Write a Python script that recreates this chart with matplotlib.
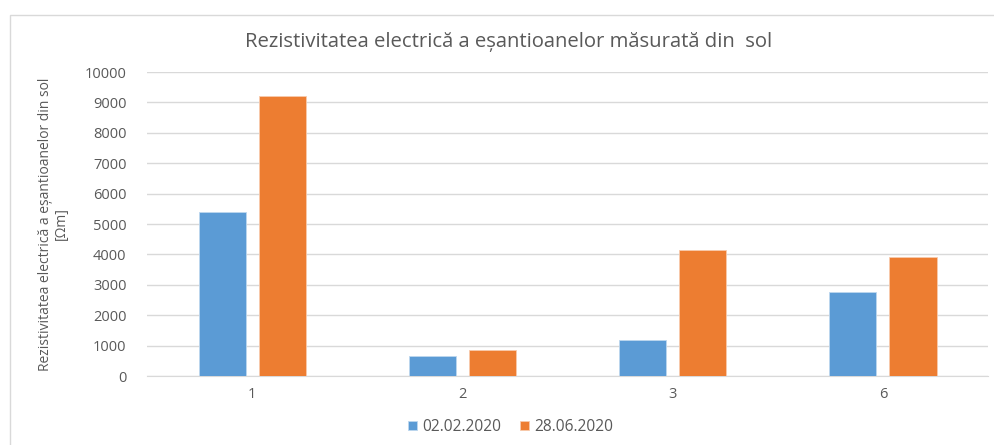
import numpy as np
import matplotlib.pyplot as plt
from matplotlib.patches import Rectangle

plt.rcParams['font.family'] = ['Open Sans', 'DejaVu Sans']

# Data
categories = ["1", "2", "3", "6"]
series_names = ["02.02.2020", "28.06.2020"]
values_feb = [5400, 660, 1200, 2750]
values_jun = [9200, 860, 4130, 3930]

title = "Rezistivitatea electrică a eșantioanelor măsurată din  sol"
ylabel = "Rezistivitatea electrică a eșantioanelor din sol\n[Ωm]"

blue = "#5B9BD5"
orange = "#ED7D31"
grid_col = "#D9D9D9"
text_col = "#595959"

fig = plt.figure(figsize=(9.95, 4.45), dpi=100)
ax = fig.add_axes([0.148, 0.155, 0.845, 0.683])

# chart frame
fig.patches.append(Rectangle((10 / 995, -0.02), 1.0, 1 - 15 / 445 + 0.02,
                             transform=fig.transFigure, fill=False,
                             edgecolor=grid_col, linewidth=1.0, zorder=0))

x = np.arange(len(categories))
w = 0.224
off = 0.143
ax.bar(x - off, values_feb, w, color=blue, edgecolor="#BDD7EE", linewidth=0.6,
       label=series_names[0], zorder=3)
ax.bar(x + off, values_jun, w, color=orange, edgecolor="#F8CBAD", linewidth=0.6,
       label=series_names[1], zorder=3)

ax.set_xlim(-0.5, len(categories) - 0.5)
ax.set_ylim(0, 10000)
ax.set_yticks(np.arange(0, 10001, 1000))
ax.set_xticks(x)
ax.set_xticklabels(categories)
ax.grid(axis="y", color=grid_col, linewidth=1.0, zorder=0)
for s in ["top", "right", "left"]:
    ax.spines[s].set_visible(False)
ax.spines["bottom"].set_color(grid_col)
ax.tick_params(axis="both", length=0, colors=text_col, labelsize=10.5)
ax.tick_params(axis="y", pad=15)
ax.tick_params(axis="x", pad=8)

ax.set_ylabel(ylabel, fontsize=10, color=text_col, linespacing=1.1)
ax.yaxis.set_label_coords(-0.093, 0.5)

fig.text(0.511, 1 - 42 / 445, title, ha="center", va="center",
         fontsize=14.6, color=text_col)

ax.legend(loc="center", bbox_to_anchor=(0.513, 1 - 427 / 445),
          bbox_transform=fig.transFigure, ncol=2, frameon=False,
          fontsize=11.2, labelcolor=text_col, handlelength=0.6, handleheight=0.6,
          handletextpad=0.3, columnspacing=1.2)

fig.savefig("out.png", dpi=100)
